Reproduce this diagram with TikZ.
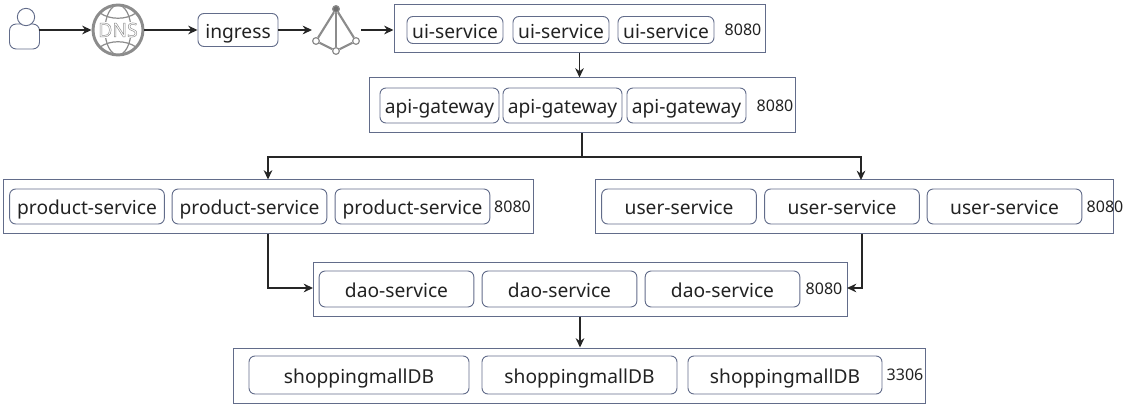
\documentclass[tikz,border=0pt]{standalone}
\usepackage{fontspec}
\setmainfont{Noto Sans}
\definecolor{edgeblue}{HTML}{626C8A}
\definecolor{icongray}{HTML}{8C8C8C}
\definecolor{textdark}{HTML}{222222}
\tikzset{
    svcbox/.style={draw=edgeblue, rounded corners=4.5pt, line width=0.7pt, text=textdark, font=\fontsize{14.4}{18}\selectfont, inner sep=0pt, text height=14.4pt, text depth=1.8pt, minimum height=27pt},
    groupbox/.style={draw=edgeblue, line width=0.75pt, inner sep=0pt},
    portlabel/.style={text=textdark, font=\fontsize{12}{14}\selectfont, inner sep=0pt},
    conn/.style={draw=black!85, line width=1.2pt, -{Stealth[length=7pt,width=6.5pt]}},
    iconline/.style={draw=icongray, line width=1.6pt},
    hubdot/.style={circle, draw=icongray, fill=white, line width=0.9pt, inner sep=0pt, minimum size=5pt}
}
\usetikzlibrary{arrows.meta}
\begin{document}
\begin{tikzpicture}[x=0.75pt, y=-0.75pt]
    \useasboundingbox (0,0) rectangle (1132,406);
    % Client side
    \node[draw=edgeblue, fill=white, rounded corners=5pt, line width=0.7pt, minimum width=22.5pt, minimum height=18.75pt, inner sep=0pt] (client) at (24.5,36.5) {};
    \node[circle, draw=edgeblue, fill=white, line width=0.7pt, minimum size=13pt, inner sep=0pt] (clienthead) at (26,17) {};
    % DNS globe
    \node[circle, draw=icongray, line width=2.2pt, minimum size=37.5pt, inner sep=0pt] (dns) at (118,30) {};
    \draw[icongray, line width=0.9pt] (118,30) ellipse (13 and 25);
    \draw[icongray, line width=0.9pt] (100,13) .. controls (110,20) and (126,20) .. (136,13);
    \draw[icongray, line width=0.9pt] (100,47) .. controls (110,40) and (126,40) .. (136,47);
    \node[fill=white, text=icongray, inner sep=0.5pt, font=\fontsize{14.5}{16}\selectfont] (dnstext) at (118,30) {\special{pdf:code 1 Tr 0.35 w}DNS\special{pdf:code 0 Tr}};
    % Ingress and load balancer
    \node[svcbox, minimum width=60pt, minimum height=24.75pt] (ingress) at (238,30) {ingress};
    \node[hubdot, fill=icongray!80!black] (hubtop) at (336,9) {};
    \node[hubdot] (hubleft) at (316,41) {};
    \node[hubdot] (hubright) at (356,41) {};
    \node[hubdot] (hubbottom) at (336,51) {};
    \draw[iconline] (hubtop) -- (hubleft);
    \draw[iconline] (hubtop) -- (hubright);
    \draw[iconline] (hubtop) -- (hubbottom);
    \draw[iconline] (hubleft) -- (hubbottom);
    \draw[iconline] (hubright) -- (hubbottom);

    % Groups
    \node[groupbox, minimum width=278.25pt, minimum height=36pt] (uigroup) at (579.5,29) {};
    \node[groupbox, minimum width=319.5pt, minimum height=41.25pt] (apigroup) at (582,105.5) {};
    \node[groupbox, minimum width=397.5pt, minimum height=40.5pt] (productgroup) at (268,207) {};
    \node[groupbox, minimum width=388.5pt, minimum height=40.5pt] (usergroup) at (854,207) {};
    \node[groupbox, minimum width=400.5pt, minimum height=40.5pt] (daogroup) at (580,289) {};
    \node[groupbox, minimum width=519pt, minimum height=41.25pt] (dbgroup) at (579,375.5) {};

    % Replicas
    \foreach \x/\n in {455/a, 561/b, 666/c} {
        \node[svcbox, minimum width=72pt, minimum height=20.25pt] (ui\n) at (\x,30) {ui-service};
    }
    \foreach \x/\n in {439.5/a, 562.5/b, 686.5/c} {
        \node[svcbox, minimum width=89.25pt, minimum height=26.25pt] (api\n) at (\x,105.5) {api-gateway};
    }
    \foreach \x/\n in {87/a, 249.5/b, 412.5/c} {
        \node[svcbox, minimum width=116pt, minimum height=26.25pt] (product\n) at (\x,206.5) {product-service};
    }
    \foreach \x/\n in {679/a, 842/b, 1004.5/c} {
        \node[svcbox, minimum width=116pt, minimum height=26.25pt] (user\n) at (\x,206.5) {user-service};
    }
    \foreach \x/\n in {396.5/a, 559.5/b, 722.5/c} {
        \node[svcbox, minimum width=116pt, minimum height=27pt] (dao\n) at (\x,289) {dao-service};
    }
    \node[svcbox, minimum width=165pt, minimum height=28.5pt] (dba) at (359,375) {shoppingmallDB};
    \node[svcbox, minimum width=146.25pt, minimum height=28.5pt] (dbb) at (579.5,375) {shoppingmallDB};
    \node[svcbox, minimum width=145.5pt, minimum height=28.5pt] (dbc) at (785,375) {shoppingmallDB};

    % Ports
    \node[portlabel] (uiport) at (743,30) {8080};
    \node[portlabel] (apiport) at (775,106) {8080};
    \node[portlabel] (productport) at (512.5,207) {8080};
    \node[portlabel] (userport) at (1105,207) {8080};
    \node[portlabel] (daoport) at (824,289) {8080};
    \node[portlabel] (dbport) at (905,375) {3306};

    % Connectors
    \coordinate (clientout) at (39,30);
    \coordinate (hubin) at (312,30);
    \coordinate (hubout) at (361,30);
    \coordinate (branch) at (582,157);
    \coordinate (userin) at (861,180);
    \coordinate (userout) at (862,234);
    \coordinate (daoleft) at (313,288);
    \coordinate (daoright) at (847,288);
    \draw[conn] (clientout) -- (dns.west);
    \draw[conn] (dns.east) -- (ingress.west);
    \draw[conn] (ingress.east) -- (hubin);
    \draw[conn] (hubout) -- (uigroup.west |- hubout);
    \draw[conn] (uigroup.south) -- (uigroup.south |- apigroup.north);
    \draw[line width=1.2pt, black!85] (apigroup.south) -- (branch);
    \draw[conn] (branch) -| (productgroup.north);
    \draw[conn] (branch) -| (userin);
    \draw[conn] (productgroup.south) |- (daoleft);
    \draw[conn] (userout) |- (daoright);
    \draw[conn] (daogroup.south) -- (daogroup.south |- dbgroup.north);
\end{tikzpicture}
\end{document}
